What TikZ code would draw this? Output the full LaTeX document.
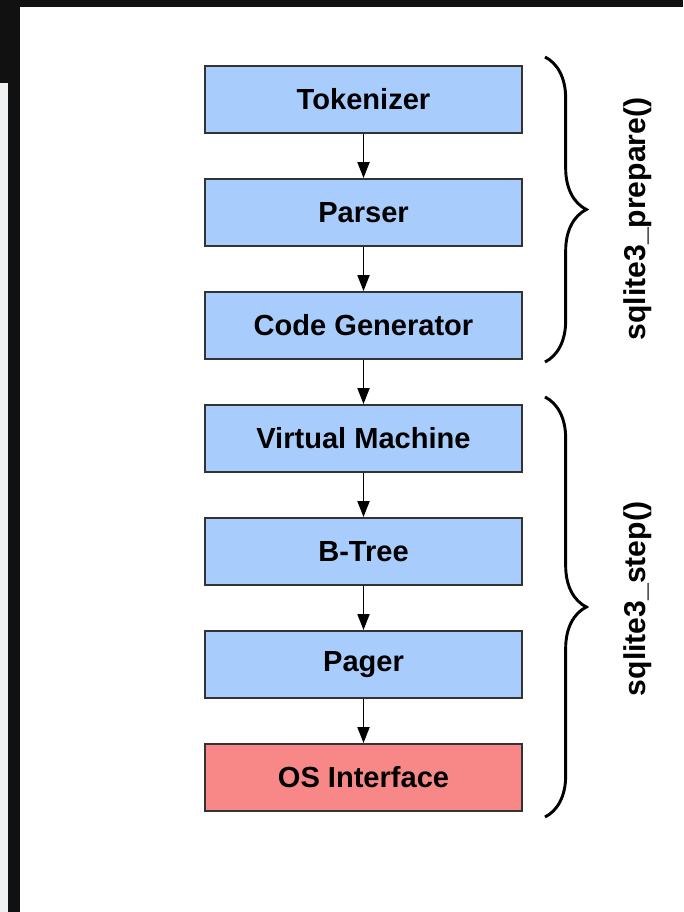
\documentclass[tikz,border=0pt]{standalone}
\usepackage{fontspec}
\setmainfont{Liberation Sans}
\usetikzlibrary{
    arrows.meta,
    calc,
    decorations.pathreplacing,
    positioning
}
\definecolor{stageblue}{HTML}{A8CDFC}
\definecolor{osred}{HTML}{F78887}
\definecolor{edgegray}{HTML}{333333}
\definecolor{framedark}{HTML}{111111}
\definecolor{framegray}{HTML}{EFF0F2}
\tikzset{
    every picture/.style = {
        > = {Triangle[width = 9pt, length = 12pt]},
        line width = 1.4pt
    },
    stage/.style = {
        draw = edgegray,
        fill = stageblue,
        line width = 1.4pt,
        minimum width = 237.75pt,
        minimum height = 50.25pt,
        inner sep = 0pt,
        font = \fontsize{21.8pt}{24pt}\selectfont\bfseries
    },
    oslayer/.style = {
        stage,
        fill = osred
    },
    curly/.style = {
        decorate,
        decoration = {brace, amplitude = 31pt},
        line width = 2.2pt
    },
    apilabel/.style = {
        rotate = 90,
        inner sep = 0pt,
        font = \fontsize{22.6pt}{24pt}\selectfont\bfseries
    }
}

\begin{document}
\begin{tikzpicture}[x = 0.75pt, y = -0.75pt]
    \useasboundingbox (0, 0) rectangle (683, 912);
    % screenshot frame
    \fill[framedark] (0, 0) rectangle (683, 7);
    \fill[framedark] (0, 0) rectangle (20, 912);
    \fill[framegray] (0, 83) rectangle (8, 912);

    \node[stage] (tok) at (363.5, 99.5) {Tokenizer};
    \node[stage] (par) at (363.5, 212.5) {Parser};
    \node[stage] (gen) at (363.5, 325.5) {Code Generator};
    \node[stage] (vm) at (363.5, 438.5) {Virtual Machine};
    \node[stage] (btree) at (363.5, 551.5) {B-Tree};
    \node[stage] (pager) at (363.5, 664.5) {Pager};
    \node[oslayer] (os) at (363.5, 777.5) {OS Interface};

    \draw[->] (tok) -- (par);
    \draw[->] (par) -- (gen);
    \draw[->] (gen) -- (vm);
    \draw[->] (vm) -- (btree);
    \draw[->] (btree) -- (pager);
    \draw[->] (pager) -- (os);

    \coordinate (preptop) at (545, 57);
    \coordinate (prepbot) at (545, 362);
    \coordinate (steptop) at (545, 397);
    \coordinate (stepbot) at (545, 817);
    \draw[curly] (preptop) -- (prepbot);
    \draw[curly] (steptop) -- (stepbot);

    \node[apilabel] (prepare) at (638, 219) {sqlite3\_prepare()};
    \node[apilabel] (step) at (638, 599) {sqlite3\_step()};
\end{tikzpicture}
\end{document}
